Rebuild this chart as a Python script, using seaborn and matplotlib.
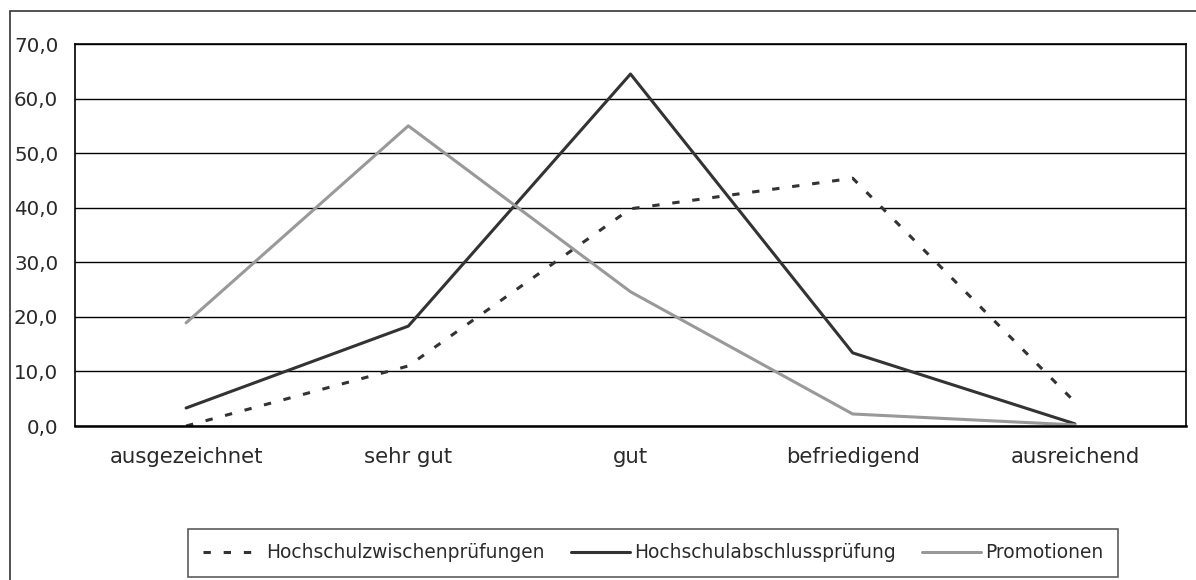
import numpy as np
import pandas as pd
import seaborn as sns
import matplotlib.pyplot as plt
from matplotlib.patches import Rectangle
from matplotlib.lines import Line2D
from matplotlib.ticker import FixedLocator

categories = ["ausgezeichnet", "sehr gut", "gut", "befriedigend", "ausreichend"]
zwischen = [0.0, 11.0, 39.8, 45.4, 4.4]
abschluss = [3.3, 18.3, 64.5, 13.4, 0.4]
promotionen = [18.9, 55.0, 24.6, 2.2, 0.2]
series_names = ["Hochschulzwischenprüfungen", "Hochschulabschlussprüfung", "Promotionen"]
y_ticks = [0, 10, 20, 30, 40, 50, 60, 70]

df = pd.DataFrame({
    "Note": categories * 3,
    "Anteil": zwischen + abschluss + promotionen,
    "Reihe": [n for n in series_names for _ in categories],
})

sns.set_style("white")
plt.rcParams["font.family"] = ["DejaVu Sans"]

fig = plt.figure(figsize=(11.96, 5.8), dpi=100)
ax = fig.add_axes([75 / 1196, 1 - 426 / 580, (1186 - 75) / 1196, (426 - 44) / 580])

palette = {series_names[0]: "#333333", series_names[1]: "#333333", series_names[2]: "#999999"}
dashes = {series_names[0]: (2.4, 4.2), series_names[1]: "", series_names[2]: ""}
sns.lineplot(data=df, x="Note", y="Anteil", hue="Reihe", style="Reihe",
             palette=palette, dashes=dashes, linewidth=2.2, sort=False,
             ax=ax, legend=False)

ax.set_xlim(-0.5, len(categories) - 0.5)
ax.set_ylim(0, 70)
ax.set_yticks(y_ticks)
ax.set_yticklabels([f"{v:.1f}".replace(".", ",") for v in y_ticks])
ax.set_xticks(range(len(categories)))
ax.set_xticklabels(categories)
ax.xaxis.set_minor_locator(FixedLocator(np.arange(-0.5, len(categories), 1.0)))
ax.tick_params(axis="x", which="major", length=0, pad=15, labelsize=15.3, labelcolor="#2a2a2a")
ax.tick_params(axis="x", which="minor", length=5, width=1, color="black", direction="out")
ax.tick_params(axis="y", length=5, width=1, color="black", direction="out", pad=7,
               labelsize=14.3, labelcolor="#2a2a2a")
ax.set_xlabel("")
ax.set_ylabel("")
ax.grid(axis="y", color="black", linewidth=1)
ax.set_axisbelow(True)
for side in ["left", "right", "top", "bottom"]:
    ax.spines[side].set_visible(True)
    ax.spines[side].set_color("black")
    ax.spines[side].set_linewidth(1.2)
ax.spines["bottom"].set_linewidth(1.8)

# legend below the plot, Excel style
handles = [
    Line2D([], [], color="#333333", lw=2.2, dashes=(2.4, 4.2)),
    Line2D([], [], color="#333333", lw=2.2),
    Line2D([], [], color="#999999", lw=2.2),
]
leg = fig.legend(handles, series_names, loc="center", ncol=3,
                 bbox_to_anchor=((193 + 1113) / 2 / 1196, 1 - 553 / 580),
                 frameon=True, fancybox=False, edgecolor="#333333", fontsize=13.4,
                 handlelength=3.2, handletextpad=0.2, columnspacing=1.4,
                 borderpad=0.8)
leg.get_frame().set_linewidth(1.2)
for t in leg.get_texts():
    t.set_color("#2a2a2a")

# outer chart frame, cut off at right and bottom like the original
fig.patches.append(Rectangle((10 / 1196, -10 / 580), (1220 - 10) / 1196, (590 - 11) / 580,
                             transform=fig.transFigure, fill=False,
                             edgecolor="#333333", linewidth=1.2))

fig.savefig("out.png", dpi=100)
